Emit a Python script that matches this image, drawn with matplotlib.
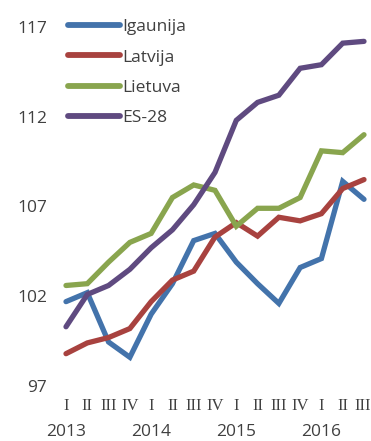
import matplotlib
matplotlib.use("Agg")
import matplotlib.pyplot as plt

# Quarterly index values, 2013 I .. 2016 III
quarters = ["I", "II", "III", "IV"] * 3 + ["I", "II", "III"]
years = ["2013", "2014", "2015", "2016"]

igaunija = [101.7, 102.2, 99.45, 98.6, 101.0, 102.7, 105.1, 105.5,
            103.9, 102.7, 101.6, 103.6, 104.1, 108.4, 107.4]
latvija = [98.8, 99.4, 99.7, 100.2, 101.7, 102.9, 103.4, 105.3,
           106.1, 105.35, 106.4, 106.2, 106.6, 108.0, 108.5]
lietuva = [102.6, 102.7, 103.9, 105.0, 105.5, 107.5, 108.2, 107.9,
           105.9, 106.9, 106.9, 107.5, 110.1, 110.0, 111.0]
es28 = [100.3, 102.1, 102.6, 103.5, 104.7, 105.7, 107.1, 108.9,
        111.8, 112.8, 113.2, 114.7, 114.9, 116.1, 116.2]

series = [("Igaunija", igaunija, "#4373AB"),
          ("Latvija", latvija, "#A8423F"),
          ("Lietuva", lietuva, "#89A54E"),
          ("ES-28", es28, "#5F4A80")]

yticks = [97, 102, 107, 112, 117]

W, H = 371, 441
fig = plt.figure(figsize=(W / 100, H / 100), dpi=100)
# axes placed in pixel terms: x 0..14 -> 66..364 px, y 97..117 -> 386..27 px from top
unit = (364 - 66) / 14
x0, x1 = -0.5, 14.3
left = 66 + x0 * unit
right = 66 + x1 * unit
ax = fig.add_axes([left / W, (H - 386) / H, (right - left) / W, (386 - 27) / H])

x = list(range(len(quarters)))
handles = []
for name, vals, col in series:
    h, = ax.plot(x, vals, color=col, lw=3.8, solid_capstyle="round",
                 solid_joinstyle="miter", label=name, clip_on=False)
    handles.append(h)

ax.set_xlim(x0, x1)
ax.set_ylim(97, 117)
for s in ax.spines.values():
    s.set_visible(False)

txt = "#404040"
ax.set_yticks(yticks)
ax.set_yticklabels([str(v) for v in yticks], fontsize=12.5, color=txt,
                   family="Open Sans")
ax.tick_params(axis="y", length=0, pad=6)
ax.set_xticks([])

# quarter and year labels below the plot
for i, q in enumerate(quarters):
    xc = 66 + i * unit
    if i == len(quarters) - 1:
        xc -= 1.5
    fig.text(xc / W, 1 - 406 / H, q, ha="center", va="center",
             fontsize=12, color=txt, family="Liberation Serif")
for k, yr in enumerate(years):
    fig.text((66 + 4 * k * unit) / W, 1 - 432 / H, yr, ha="center", va="center",
             fontsize=12.5, color=txt, family="Open Sans")

leg = fig.legend(handles=handles, loc="upper left",
                 bbox_to_anchor=(68 / W, 1 - 19 / H), frameon=False,
                 handlelength=3.0, handletextpad=0.15, labelspacing=0.82,
                 borderpad=0, borderaxespad=0,
                 prop={"family": "Open Sans", "size": 12.5})
for t in leg.get_texts():
    t.set_color(txt)
for lh in leg.legend_handles:
    lh.set_linewidth(4.2)
    lh.set_solid_capstyle("round")

fig.savefig("out.png", dpi=100)
